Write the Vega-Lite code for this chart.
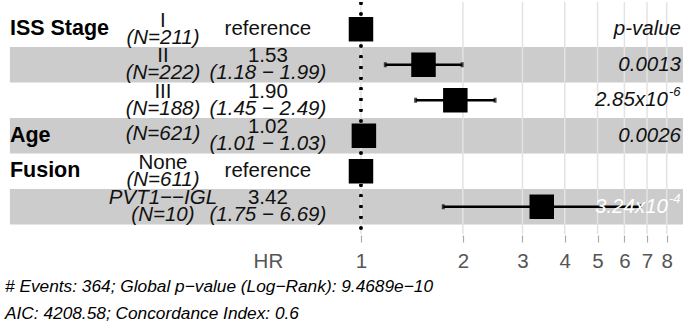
{
  "$schema": "https://vega.github.io/schema/vega-lite/v6.json",
  "width": 683,
  "height": 232,
  "padding": 0,
  "background": "white",
  "config": {"view": {"stroke": null}, "text": {"font": "Liberation Sans", "fontSize": 20.5, "color": "#111111"}},
  "title": {
    "text": ["# Events: 364; Global p−value (Log−Rank): 9.4689e−10", "AIC: 4208.58; Concordance Index: 0.6"],
    "orient": "bottom", "anchor": "start", "frame": "group", "fontSize": 17.3, "fontStyle": "italic",
    "fontWeight": "normal", "font": "Liberation Sans", "lineHeight": 27, "offset": 6, "dx": 5, "color": "black"
  },
  "datasets": {
    "rows": [
      {"row": 1, "var": "ISS Stage", "level": "I", "N": "(N=211)", "est": "reference", "ci": "", "hr": 1, "lo": null, "hi": null, "p": "p-value", "pbase": "", "pexp": ""},
      {"row": 2, "var": "", "level": "II", "N": "(N=222)", "est": "1.53", "ci": "(1.18 − 1.99)", "hr": 1.53, "lo": 1.18, "hi": 1.99, "p": "0.0013", "pbase": "", "pexp": ""},
      {"row": 3, "var": "", "level": "III", "N": "(N=188)", "est": "1.90", "ci": "(1.45 − 2.49)", "hr": 1.90, "lo": 1.45, "hi": 2.49, "p": "", "pbase": "2.85x10", "pexp": "-6"},
      {"row": 4, "var": "Age", "level": "", "N": "(N=621)", "est": "1.02", "ci": "(1.01 − 1.03)", "hr": 1.02, "lo": 1.01, "hi": 1.03, "p": "0.0026", "pbase": "", "pexp": ""},
      {"row": 5, "var": "Fusion", "level": "None", "N": "(N=611)", "est": "reference", "ci": "", "hr": 1, "lo": null, "hi": null, "p": "", "pbase": "", "pexp": ""},
      {"row": 6, "var": "", "level": "PVT1−−IGL", "N": "(N=10)", "est": "3.42", "ci": "(1.75 − 6.69)", "hr": 3.42, "lo": 1.75, "hi": 6.69, "p": "", "pbase": "3.24x10", "pexp": "-4"}
    ],
    "grid": [{"v": 1}, {"v": 2}, {"v": 3}, {"v": 4}, {"v": 5}, {"v": 6}, {"v": 7}, {"v": 8}]
  },
  "data": {"name": "rows"},
  "layer": [
    {
      "transform": [{"filter": "datum.row % 2 == 0"}],
      "mark": {"type": "rect", "color": "#cccccc"},
      "encoding": {
        "x": {"datum": 0.0918, "type": "quantitative",
          "scale": {"type": "log", "domain": [0.08582, 8.94], "nice": false, "zero": false},
          "axis": {"title": null, "values": [0.531, 1, 2, 3, 4, 5, 6, 7, 8], "grid": false, "domain": false,
            "labelExpr": "datum.value < 0.9 ? 'HR' : format(datum.value, 'd')",
            "labelFont": "Liberation Sans", "labelFontSize": 20.5, "labelColor": "#555555", "labelPadding": 9,
            "tickSize": 7, "tickWidth": 1.2, "offset": 1,
            "tickColor": {"condition": {"test": "datum.value < 0.9", "value": "transparent"}, "value": "#aaaaaa"},
            "labelFlush": false, "labelOverlap": false}},
        "x2": {"datum": 8.94},
        "y": {"field": "row", "type": "ordinal", "scale": {"domain": [1, 2, 3, 4, 5, 6], "paddingInner": 0, "paddingOuter": 0.267}, "axis": null}
      }
    },
    {
      "data": {"name": "grid"},
      "mark": {"type": "rule", "color": "#e3e3e3", "strokeWidth": 1.5},
      "encoding": {"x": {"field": "v", "type": "quantitative"}}
    },
    {
      "mark": {"type": "rule", "color": "black", "strokeWidth": 2.5, "strokeDash": [2.5, 8.2]},
      "encoding": {"x": {"datum": 1, "type": "quantitative"}}
    },
    {
      "transform": [{"filter": "isValid(datum.lo)"}],
      "mark": {"type": "rule", "color": "black", "strokeWidth": 2.5},
      "encoding": {
        "x": {"field": "lo", "type": "quantitative"},
        "x2": {"field": "hi"},
        "y": {"field": "row", "type": "ordinal"}
      }
    },
    {
      "transform": [{"filter": "isValid(datum.lo)"}],
      "mark": {"type": "tick", "color": "black", "size": 5, "thickness": 3},
      "encoding": {
        "x": {"field": "lo", "type": "quantitative"},
        "y": {"field": "row", "type": "ordinal"}
      }
    },
    {
      "transform": [{"filter": "isValid(datum.lo)"}],
      "mark": {"type": "tick", "color": "black", "size": 5, "thickness": 3},
      "encoding": {
        "x": {"field": "hi", "type": "quantitative"},
        "y": {"field": "row", "type": "ordinal"}
      }
    },
    {
      "mark": {"type": "point", "shape": "square", "filled": true, "color": "black", "opacity": 1, "size": 600},
      "encoding": {
        "x": {"field": "hr", "type": "quantitative"},
        "y": {"field": "row", "type": "ordinal"}
      }
    },
    {
      "mark": {"type": "text", "align": "left", "baseline": "middle", "fontWeight": "bold", "fontSize": 21.5, "color": "black"},
      "encoding": {"x": {"datum": 0.0918, "type": "quantitative"}, "y": {"field": "row", "type": "ordinal"}, "text": {"field": "var"}}
    },
    {
      "transform": [{"filter": "datum.row != 6"}],
      "mark": {"type": "text", "align": "center", "baseline": "alphabetic", "dy": -2.5},
      "encoding": {"x": {"datum": 0.26, "type": "quantitative"}, "y": {"field": "row", "type": "ordinal"}, "text": {"field": "level"}}
    },
    {
      "transform": [{"filter": "datum.row == 6"}],
      "mark": {"type": "text", "align": "center", "baseline": "alphabetic", "dy": -2.5, "fontStyle": "italic"},
      "encoding": {"x": {"datum": 0.26, "type": "quantitative"}, "y": {"field": "row", "type": "ordinal"}, "text": {"field": "level"}}
    },
    {
      "transform": [{"filter": "datum.level != ''"}],
      "mark": {"type": "text", "align": "center", "baseline": "alphabetic", "dy": 14.5, "fontStyle": "italic"},
      "encoding": {"x": {"datum": 0.26, "type": "quantitative"}, "y": {"field": "row", "type": "ordinal"}, "text": {"field": "N"}}
    },
    {
      "transform": [{"filter": "datum.level == ''"}],
      "mark": {"type": "text", "align": "center", "baseline": "middle", "dy": -2, "fontStyle": "italic"},
      "encoding": {"x": {"datum": 0.26, "type": "quantitative"}, "y": {"field": "row", "type": "ordinal"}, "text": {"field": "N"}}
    },
    {
      "transform": [{"filter": "datum.est != 'reference'"}],
      "mark": {"type": "text", "align": "center", "baseline": "alphabetic", "dy": -2.5},
      "encoding": {"x": {"datum": 0.531, "type": "quantitative"}, "y": {"field": "row", "type": "ordinal"}, "text": {"field": "est"}}
    },
    {
      "transform": [{"filter": "datum.est == 'reference'"}],
      "mark": {"type": "text", "align": "center", "baseline": "middle"},
      "encoding": {"x": {"datum": 0.531, "type": "quantitative"}, "y": {"field": "row", "type": "ordinal"}, "text": {"field": "est"}}
    },
    {
      "mark": {"type": "text", "align": "center", "baseline": "alphabetic", "dy": 14.5, "fontStyle": "italic"},
      "encoding": {"x": {"datum": 0.531, "type": "quantitative"}, "y": {"field": "row", "type": "ordinal"}, "text": {"field": "ci"}}
    },
    {
      "mark": {"type": "text", "align": "right", "baseline": "middle", "fontStyle": "italic"},
      "encoding": {"x": {"datum": 8.82, "type": "quantitative"}, "y": {"field": "row", "type": "ordinal"}, "text": {"field": "p"}}
    },
    {
      "mark": {"type": "text", "align": "right", "baseline": "middle", "fontStyle": "italic"},
      "encoding": {"x": {"datum": 8.07, "type": "quantitative"}, "y": {"field": "row", "type": "ordinal"}, "text": {"field": "pbase"},
        "color": {"condition": {"test": "datum.row == 6", "value": "white"}, "value": "#111111"}}
    },
    {
      "mark": {"type": "text", "align": "left", "baseline": "middle", "fontStyle": "italic", "fontSize": 13, "dx": 1, "dy": -8},
      "encoding": {"x": {"datum": 8.07, "type": "quantitative"}, "y": {"field": "row", "type": "ordinal"}, "text": {"field": "pexp"},
        "color": {"condition": {"test": "datum.row == 6", "value": "white"}, "value": "#111111"}}
    }
  ]
}
